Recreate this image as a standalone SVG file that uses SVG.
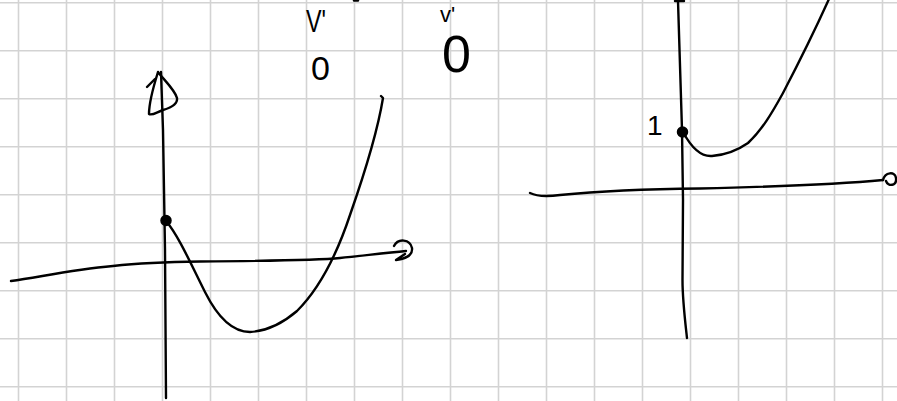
<svg xmlns="http://www.w3.org/2000/svg" width="897" height="401" viewBox="0 0 897 401">
<style>
.grid line{stroke:#d3d3d3;stroke-width:1.6}
.ink{fill:none;stroke:#000;stroke-width:2.4;stroke-linecap:round;stroke-linejoin:round}
.dot{fill:#000;stroke:#000;stroke-width:1.5}
.hand{font-family:"Liberation Sans","DejaVu Sans",sans-serif;fill:#000}
</style>
<rect width="897" height="401" fill="#fff"/>
<g id="grid" class="grid">
<line x1="18.5" y1="0" x2="18.5" y2="401"/><line x1="66.5" y1="0" x2="66.5" y2="401"/><line x1="114.5" y1="0" x2="114.5" y2="401"/><line x1="162.5" y1="0" x2="162.5" y2="401"/><line x1="210.5" y1="0" x2="210.5" y2="401"/><line x1="258.5" y1="0" x2="258.5" y2="401"/><line x1="306.5" y1="0" x2="306.5" y2="401"/><line x1="354.5" y1="0" x2="354.5" y2="401"/><line x1="402.5" y1="0" x2="402.5" y2="401"/><line x1="450.5" y1="0" x2="450.5" y2="401"/><line x1="498.5" y1="0" x2="498.5" y2="401"/><line x1="546.5" y1="0" x2="546.5" y2="401"/><line x1="594.5" y1="0" x2="594.5" y2="401"/><line x1="642.5" y1="0" x2="642.5" y2="401"/><line x1="690.5" y1="0" x2="690.5" y2="401"/><line x1="738.5" y1="0" x2="738.5" y2="401"/><line x1="786.5" y1="0" x2="786.5" y2="401"/><line x1="834.5" y1="0" x2="834.5" y2="401"/><line x1="882.5" y1="0" x2="882.5" y2="401"/>
<line x1="0" y1="2.7" x2="897" y2="2.7"/><line x1="0" y1="50.7" x2="897" y2="50.7"/><line x1="0" y1="98.7" x2="897" y2="98.7"/><line x1="0" y1="146.7" x2="897" y2="146.7"/><line x1="0" y1="194.7" x2="897" y2="194.7"/><line x1="0" y1="242.7" x2="897" y2="242.7"/><line x1="0" y1="290.7" x2="897" y2="290.7"/><line x1="0" y1="338.7" x2="897" y2="338.7"/><line x1="0" y1="386.7" x2="897" y2="386.7"/>
</g>
<g id="connectors">
<g id="left-axes" class="ink">
<path d="M161,72 L163,130 L165,250 L166,398"/>
<path d="M158,72 C164,80 175,90 177,98 C178,105 170,108 163,110 C157,112 152,116 149,114 C149,105 153,88 158,72"/>
<path d="M147,87 L155,79"/>
<path d="M11,281 C40,277 70,270 113,266 C140,263 160,262 200,261.5 C260,261 320,260 340,258 C360,256 385,253 406,251"/>
<path d="M394,246 C398,238 410,239 412,248 C413,256 404,259 396,260 L405,254"/>
</g>
<g id="right-axes" class="ink">
<path d="M678,1 L682,130 L683,200 L682.5,280 C682.5,300 685,320 687,338"/>
<path d="M675,1 L684,1"/>
<path d="M530,193 C536,196 545,197 560,195 C600,191 650,189 700,188.5 C760,187 830,185 883,180"/>
<path d="M883,180 C885,172 895,171 896,178 C897,186 888,187 886,181"/>
</g>
<path class="ink" d="M354,0.5 L358,0.5"/>
</g>
<g id="left-graph">
<path class="ink" d="M166,221 C178,235 190,262 205,292 C218,318 232,332 250,332 C268,331 283,323 297,311 C318,290 335,260 350,215 C364,175 377,135 383,98 L381,96"/>
<circle class="dot" cx="166" cy="220.5" r="5"/>
</g>
<g id="right-graph">
<path class="ink" d="M683,132 C690,145 700,157 712,156 C725,155 738,150 748,143 C762,130 772,113 783,93 C795,70 815,30 829,-1"/>
<circle class="dot" cx="682.5" cy="132" r="5"/>
</g>
<g id="labels" class="hand">
<text x="306" y="32" font-size="31" textLength="20" lengthAdjust="spacingAndGlyphs">V'</text>
<text x="311" y="80" font-size="34">0</text>
<text x="440" y="22" font-size="22">v'</text>
<text x="442" y="72" font-size="52">0</text>
<text x="647" y="135" font-size="28">1</text>
</g>
</svg>
